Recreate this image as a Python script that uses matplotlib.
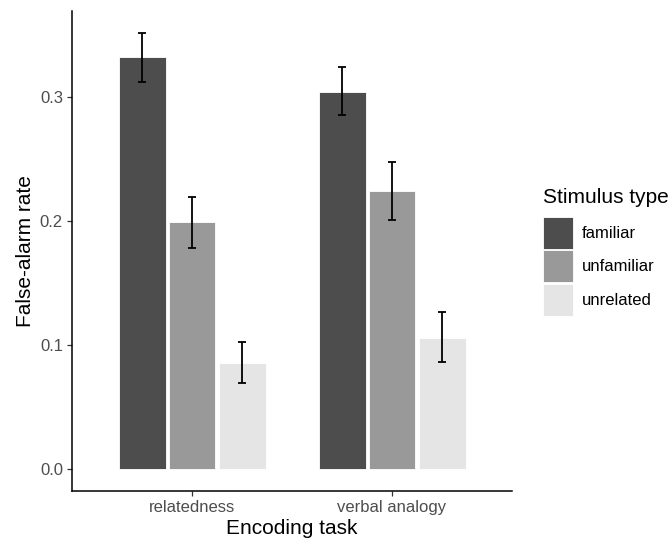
import numpy as np
import matplotlib
matplotlib.use("Agg")
import matplotlib.pyplot as plt

plt.rcParams['font.family'] = ['Liberation Sans', 'DejaVu Sans']

tasks = ['relatedness', 'verbal analogy']
stimulus = ['familiar', 'unfamiliar', 'unrelated']
colors = ['#4D4D4D', '#999999', '#E5E5E5']

# false-alarm rate per stimulus type, one value per task
rate = {
    'familiar': [0.332, 0.304],
    'unfamiliar': [0.199, 0.224],
    'unrelated': [0.0855, 0.106],
}
err_lo = {
    'familiar': [0.312, 0.2855],
    'unfamiliar': [0.178, 0.201],
    'unrelated': [0.0694, 0.0863],
}
err_hi = {
    'familiar': [0.3516, 0.3237],
    'unfamiliar': [0.2191, 0.2474],
    'unrelated': [0.1022, 0.1269],
}

fig = plt.figure(figsize=(6.7, 5.42), dpi=100)
ax = fig.add_axes([72 / 670, 51 / 542, 440 / 670, 480 / 542])

x = np.arange(1, len(tasks) + 1)
step = 0.25
for i, s in enumerate(stimulus):
    pos = x + (i - 1) * step
    vals = np.array(rate[s])
    lo = vals - np.array(err_lo[s])
    hi = np.array(err_hi[s]) - vals
    ax.bar(pos, vals, width=0.235, color=colors[i], edgecolor='white',
           linewidth=0.6, label=s, zorder=2)
    ax.errorbar(pos, vals, yerr=[lo, hi], fmt='none', ecolor='black',
                elinewidth=1.3, capsize=3, capthick=1.3, zorder=3)

ax.set_xlim(0.4, 2.6)
ymax = max(max(v) for v in err_hi.values())
ax.set_ylim(-0.05 * ymax, 1.05 * ymax)
ax.set_xticks(x)
ax.set_xticklabels(tasks)
ax.set_yticks([0.0, 0.1, 0.2, 0.3])
ax.set_yticklabels(['0.0', '0.1', '0.2', '0.3'])

for side in ['top', 'right']:
    ax.spines[side].set_visible(False)
for side in ['left', 'bottom']:
    ax.spines[side].set_linewidth(1.1)
    ax.spines[side].set_color('black')
ax.tick_params(axis='both', length=3.5, width=0.9, color='#333333',
               labelsize=12, labelcolor='#4D4D4D', pad=3)

ax.set_xlabel('Encoding task', fontsize=15, labelpad=3)
ax.set_ylabel('False-alarm rate', fontsize=15, labelpad=3.5)

leg = ax.legend(title='Stimulus type', loc='center left',
                bbox_to_anchor=(1.07, 0.498), frameon=False, fontsize=12,
                title_fontsize=15, handlelength=1.8, handleheight=2.6,
                labelspacing=0.08, handletextpad=0.55, borderaxespad=0,
                borderpad=0)
leg._legend_box.align = 'left'
leg._legend_box.sep = 7  # a bit more room under the title

fig.savefig('out.png', dpi=100)
